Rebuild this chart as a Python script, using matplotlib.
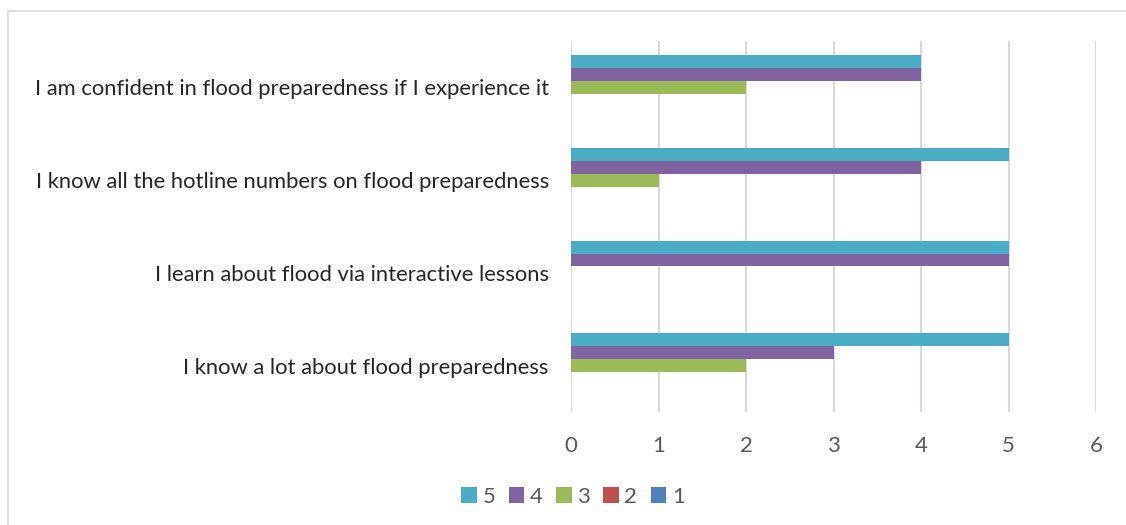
import matplotlib
matplotlib.use("Agg")
import matplotlib.pyplot as plt
from matplotlib.patches import Rectangle
import numpy as np

plt.rcParams['font.family'] = ['Lato', 'DejaVu Sans']

# categories, bottom to top
categories = ["I know a lot about flood preparedness",
              "I learn about flood via interactive lessons",
              "I know all the hotline numbers on flood preparedness",
              "I am confident in flood preparedness if I experience it"]

series_names = ["1", "2", "3", "4", "5"]
s1 = [0, 0, 0, 0]
s2 = [0, 0, 0, 0]
s3 = [2, 0, 1, 2]
s4 = [3, 5, 4, 4]
s5 = [5, 5, 5, 4]
colors = ["#4F81BD", "#C0504D", "#9BBB59", "#8064A2", "#4BACC6"]

fig = plt.figure(figsize=(11.26, 5.25), dpi=100)
ax = fig.add_axes([571/1126, 1 - 412/525, (1096 - 571)/1126, (412 - 41)/525])

y = np.arange(len(categories))
h = 1 / (5 + 2.19)
bars = []
for i, (vals, col) in enumerate(zip([s1, s2, s3, s4, s5], colors)):
    b = ax.barh(y + (i - 2) * h, vals, height=h, color=col, label=series_names[i],
                edgecolor='none', zorder=3)
    bars.append(b)

ax.set_xlim(0, 6)
ax.set_ylim(-0.5, len(categories) - 0.5)
ax.set_xticks(range(0, 7))
ax.set_yticks(y)
ax.set_yticklabels(categories)
ax.grid(axis='x', color='#D9D9D9', linewidth=1.5, zorder=0)
for s in ax.spines.values():
    s.set_visible(False)
ax.tick_params(axis='y', length=0, colors='#595959', labelsize=15.8, pad=16)
ax.tick_params(axis='x', length=0, colors='#595959', labelsize=16, pad=17)
for t in ax.get_yticklabels():
    t.set_color('#262626')

# chart border
fig.patches.append(Rectangle((8/1126, -0.1), 1.5, 1 - 11/525 + 0.1, transform=fig.transFigure,
                             fill=False, edgecolor='#D9D9D9', linewidth=1.2))

handles = bars[::-1]
fig.legend(handles, series_names[::-1], loc='center', bbox_to_anchor=(573/1126, 1 - 497/525),
           ncol=5, frameon=False, handlelength=0.7, handleheight=0.7, handletextpad=0.25,
           columnspacing=0.6, fontsize=16, labelcolor='#595959')

fig.savefig("out.png", dpi=100)
